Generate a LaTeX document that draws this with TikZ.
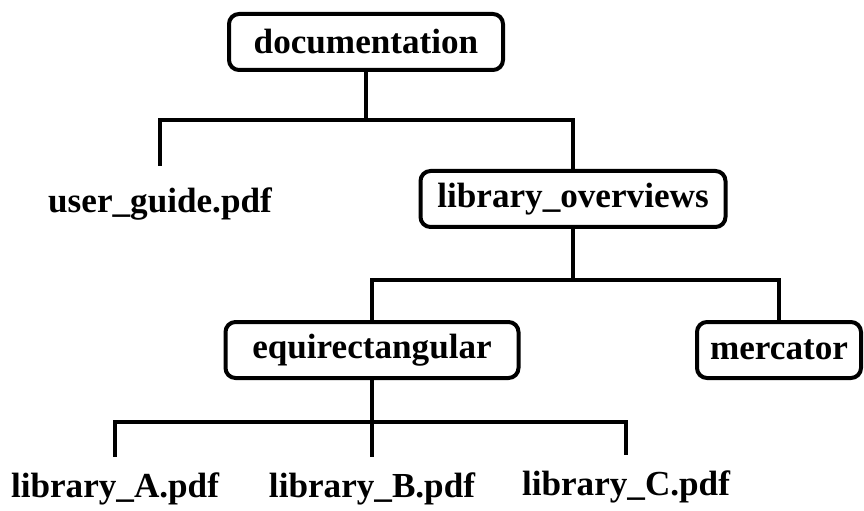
\documentclass[tikz,border=0pt]{standalone}
\usepackage{fontspec}
\setmainfont{Liberation Serif}
\usepackage{tikz}

\begin{document}
\begin{tikzpicture}[
        folder/.style={draw, rounded corners=0.2cm, line width=0.08cm, minimum height=1.12cm, inner xsep=0pt},
        file/.style={anchor=base, inner ysep=0.3cm},
        branch/.style={line width=0.08cm},
        font=\fontsize{20}{24}\selectfont\bfseries
    ]
            \useasboundingbox (0, 0) rectangle (17.28, -10.22);
            \node[folder, minimum width=5.48cm] (doc) at (7.32, -0.84) {documentation};
            \node[file, inner ysep=0.44cm] (ug) at (3.2, -4.26) {user\_guide.pdf};
            \node[folder, minimum width=6.1cm] (lo) at (11.46, -3.98) {library\_overviews};
            \node[folder, minimum width=5.86cm] (eq) at (7.44, -7.0) {equirectangular};
            \node[folder, minimum width=3.28cm] (merc) at (15.58, -7.0) {mercator};
            \node[file] (la) at (2.3, -9.94) {library\_A.pdf};
            \node[file] (lb) at (7.44, -9.94) {library\_B.pdf};
            \node[file] (lc) at (12.52, -9.9) {library\_C.pdf};
            \draw[branch] (doc.south) -- ++(0, -0.96) -| (ug.north);
            \draw[branch] (doc.south) -- ++(0, -0.96) -| (lo.north);
            \draw[branch] (lo.south) -- ++(0, -1.02) -| (eq.north);
            \draw[branch] (lo.south) -- ++(0, -1.02) -| (merc.north);
            \draw[branch] (eq.south) -- ++(0, -0.84) -| (la.north);
            \draw[branch] (eq.south) -- (lb.north);
            \draw[branch] (eq.south) -- ++(0, -0.84) -| (lc.north);
        \end{tikzpicture}
\end{document}
